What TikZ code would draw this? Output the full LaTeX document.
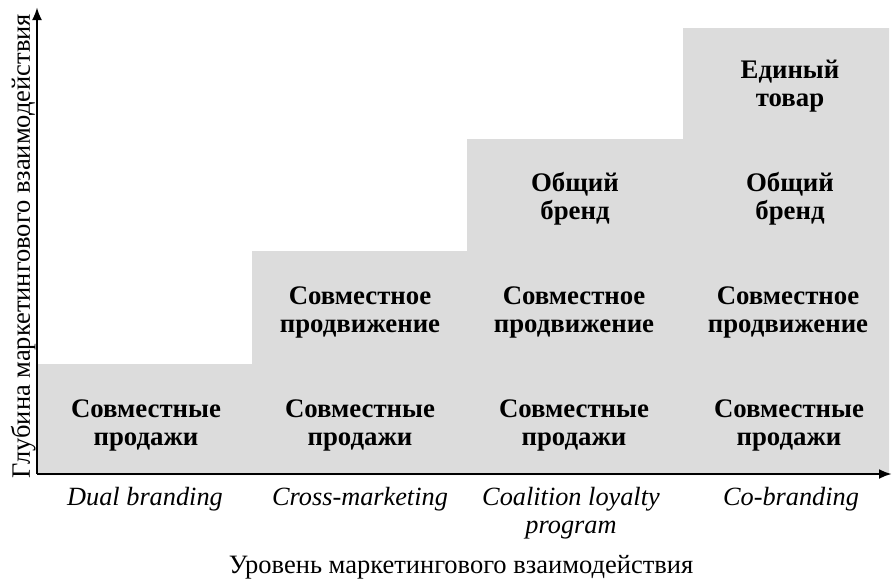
\documentclass[tikz,border=0pt]{standalone}
\usepackage{fontspec}
\setmainfont{Liberation Serif}
\usetikzlibrary{arrows.meta}
\definecolor{fillgray}{RGB}{220,220,220}
\tikzset{
  cell/.style={font=\fontsize{26.8}{28}\selectfont\bfseries, align=center, inner sep=0pt, anchor=center},
  xlab/.style={font=\fontsize{26.3}{28}\selectfont\itshape, align=center, inner sep=0pt, anchor=base},
  axislab/.style={font=\fontsize{26.5}{28}\selectfont, inner sep=0pt, anchor=base},
  axis/.style={line width=2.7pt, -{Latex[length=13pt,width=10pt]}},
}
\begin{document}
\begin{tikzpicture}[x=1pt,y=-1pt]
\useasboundingbox (0,0) rectangle (892,579);
\fill[fillgray] (38,475) -- (38,364) -- (252,364) -- (252,251) -- (467,251) -- (467,139) -- (683,139) -- (683,28) -- (889,28) -- (889,475) -- cycle;
\coordinate (O) at (37,474);
\coordinate (Ytip) at (37,7);
\coordinate (Xtip) at (892,474);
\draw[axis] (O) -- (Ytip);
\draw[axis] (O) -- (Xtip);
% column 1
\node[cell] (c1r1) at (146,425) {Совместные\\продажи};
% column 2
\node[cell] (c2r1) at (360,425) {Совместные\\продажи};
\node[cell] (c2r2) at (360,312) {Совместное\\продвижение};
% column 3
\node[cell] (c3r1) at (574,425) {Совместные\\продажи};
\node[cell] (c3r2) at (574,312) {Совместное\\продвижение};
\node[cell] (c3r3) at (575,199) {Общий\\бренд};
% column 4
\node[cell] (c4r1) at (789,425) {Совместные\\продажи};
\node[cell] (c4r2) at (788,312) {Совместное\\продвижение};
\node[cell] (c4r3) at (790,199) {Общий\\бренд};
\node[cell] (c4r4) at (790,86) {Единый\\товар};
% x labels
\node[xlab] (l1) at (145,505) {Dual branding};
\node[xlab] (l2) at (360,505) {Cross-marketing};
\node[xlab] (l3) at (571,533) {Coalition loyalty\\program};
\node[xlab] (l4) at (791,505) {Co-branding};
% axis labels
\node[axislab] (xt) at (461,573) {Уровень маркетингового взаимодействия};
\node[axislab, rotate=90] (yt) at (30,246) {Глубина маркетингового взаимодействия};
\end{tikzpicture}
\end{document}
